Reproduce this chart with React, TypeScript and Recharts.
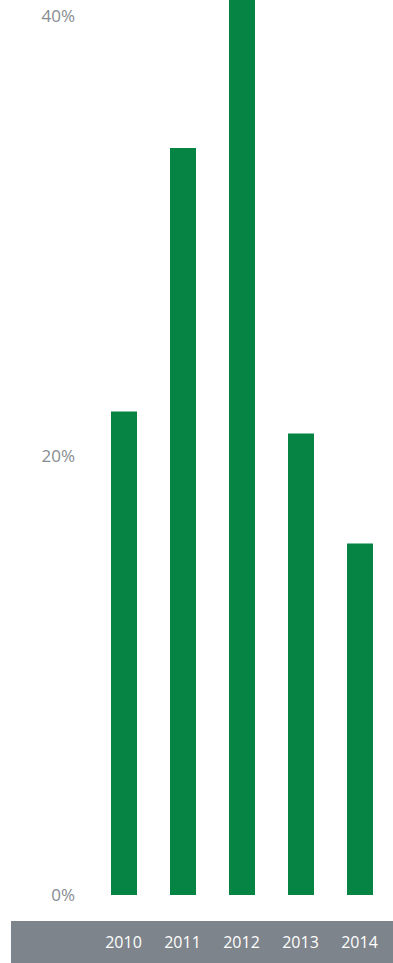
import React from 'react';
import { Bar, BarChart, XAxis, YAxis } from 'recharts';

// Share by year (2012 runs past the top of the axis)
const YEARS = ['2010', '2011', '2012', '2013', '2014'];
const SHARE = [22, 34, 41, 21, 16];
const Y_TICKS = [0, 20, 40];

const data = YEARS.map((year, i) => ({ year, share: SHARE[i] }));

const GREEN = '#058444';
const BAND = '#7d848b';
const TICK_GREY = '#868c92';

const YearTick = (props: any) => {
  const { x, payload } = props;
  return (
    <text
      x={x}
      y={942}
      textAnchor="middle"
      dominantBaseline="central"
      fill="#ffffff"
      fontSize={16}
      fontFamily="'Open Sans', sans-serif"
    >
      {payload.value}
    </text>
  );
};

export default function App() {
  return (
    <div style={{ position: 'absolute', left: 0, top: 0, width: 393, height: 963, background: '#fff' }}>
      {/* grey strip behind the year labels */}
      <div
        style={{ position: 'absolute', left: 11, top: 921, width: 382, height: 42, background: BAND }}
      />
      <div style={{ position: 'absolute', left: 0, top: 0 }}>
        <BarChart
          width={393}
          height={963}
          data={data}
          margin={{ top: 0, right: 4, bottom: 0, left: 0 }}
          barCategoryGap={0}
        >
          <XAxis
            dataKey="year"
            height={68}
            axisLine={false}
            tickLine={false}
            tick={<YearTick />}
            interval={0}
          />
          <YAxis
            width={94}
            domain={[0, 40.73]}
            ticks={Y_TICKS}
            allowDataOverflow
            axisLine={false}
            tickLine={false}
            tickSize={0}
            tickMargin={19}
            tickFormatter={(v: number) => `${v}%`}
            tick={{ fill: TICK_GREY, fontSize: 17, fontFamily: "'Open Sans', sans-serif" }}
          />
          <Bar dataKey="share" fill={GREEN} barSize={26} isAnimationActive={false} />
        </BarChart>
      </div>
    </div>
  );
}
